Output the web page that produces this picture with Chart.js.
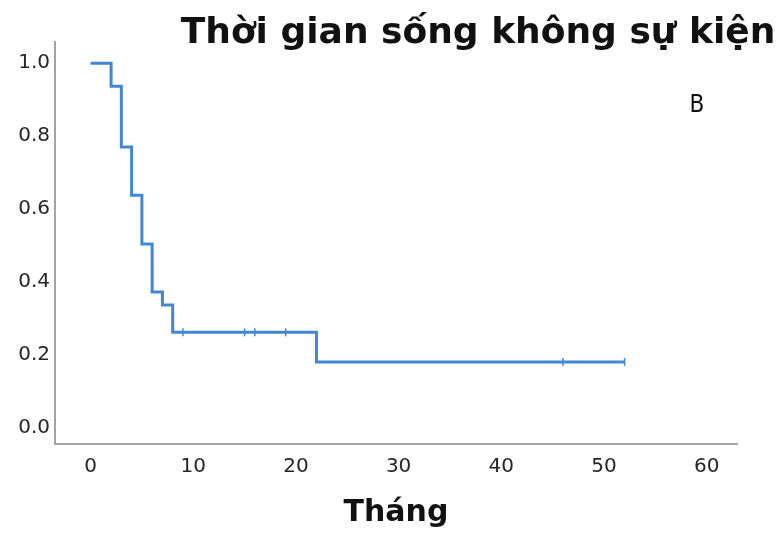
<!DOCTYPE html>
<html>
<head>
<meta charset="utf-8">
<script src="https://cdn.jsdelivr.net/npm/chart.js@4.4.1/dist/chart.umd.min.js"></script>
<style>
  body { margin: 0; background: #fff; }
  #wrap { width: 784px; height: 534px; }
</style>
</head>
<body>
<div id="wrap"><canvas id="kmChart" width="784" height="534"></canvas></div>
<script>
// Kaplan-Meier data
const eventTimes = [0, 2, 3, 4, 5, 6, 7, 8, 22, 52]
const survival = [1.0, 0.937, 0.77, 0.638, 0.504, 0.373, 0.337, 0.262, 0.181, 0.181]
const censorTimes = [9, 15, 16, 19, 46, 52]
const xTicks = [0, 10, 20, 30, 40, 50, 60]
const yTicks = [0, 0.2, 0.4, 0.6, 0.8, 1.0]

const chartTitle = 'Thời gian sống không sự kiện'
const panelLabel = 'B'
const xTitle = 'Tháng'

const lineColor = 'rgb(66, 135, 214)'
const axisColor = '#a3a3a3'
const textColor = '#262626'

// survival value at time t (step function)
function survAt (t) {
  let s = survival[0]
  for (let i = 0; i < eventTimes.length; i++) {
    if (eventTimes[i] <= t) s = survival[i]
  }
  return s
}

const curve = eventTimes.map((t, i) => ({ x: t, y: survival[i] }))
const censored = censorTimes.map(t => ({ x: t, y: survAt(t) }))

// title and panel letter drawn on top
const textPlugin = {
  id: 'textPlugin',
  afterDraw (chart) {
    const c = chart.ctx
    c.save()
    c.fillStyle = '#111'
    c.textAlign = 'center'
    c.textBaseline = 'alphabetic'
    c.font = 'bold 36px "DejaVu Sans"'
    c.fillText(chartTitle, 478, 43)
    c.font = '24px "DejaVu Sans Condensed", "DejaVu Sans"'
    c.fillText(panelLabel, 697, 112)
    c.restore()
  }
}

const bgPlugin = {
  id: 'bg',
  beforeDraw (chart) {
    const c = chart.ctx
    c.save()
    c.fillStyle = '#fff'
    c.fillRect(0, 0, chart.width, chart.height)
    c.restore()
  }
}

const ctx = document.getElementById('kmChart').getContext('2d')

new Chart(ctx, {
  type: 'line',
  data: {
    datasets: [
      {
        label: 'Survival',
        data: curve,
        stepped: 'before',
        borderColor: lineColor,
        borderWidth: 3,
        pointRadius: 0,
        fill: false
      },
      {
        label: 'Censored',
        data: censored,
        showLine: false,
        pointStyle: 'line',
        rotation: 90,
        pointRadius: 4,
        borderColor: lineColor,
        borderWidth: 1.5,
        pointHoverRadius: 4
      }
    ]
  },
  options: {
    responsive: false,
    devicePixelRatio: 1,
    animation: false,
    layout: { padding: { top: 42, right: 47, left: 0, bottom: 0 } },
    plugins: {
      legend: { display: false },
      tooltip: { enabled: false }
    },
    scales: {
      x: {
        type: 'linear',
        min: -3.46,
        max: 62.95,
        afterBuildTicks: s => { s.ticks = xTicks.map(v => ({ value: v })) },
        afterFit: s => { s.height = 90 },
        grid: { display: false, drawTicks: false },
        border: { display: true, color: axisColor, width: 2 },
        ticks: {
          padding: 11,
          color: textColor,
          font: { family: 'DejaVu Sans', size: 20 },
          maxRotation: 0
        },
        title: {
          display: true,
          text: xTitle,
          color: '#111',
          font: { family: 'DejaVu Sans', size: 30, weight: 'bold' },
          padding: { top: 0, bottom: 3 }
        }
      },
      y: {
        min: -0.044,
        max: 1.058,
        afterBuildTicks: s => { s.ticks = yTicks.map(v => ({ value: v })) },
        afterFit: s => { s.width = 55 },
        grid: { display: false, drawTicks: false },
        border: { display: true, color: axisColor, width: 2 },
        ticks: {
          padding: 5,
          color: textColor,
          font: { family: 'DejaVu Sans', size: 20 },
          callback: v => Number(v).toFixed(1)
        }
      }
    }
  },
  plugins: [bgPlugin, textPlugin]
})
</script>
</body>
</html>
